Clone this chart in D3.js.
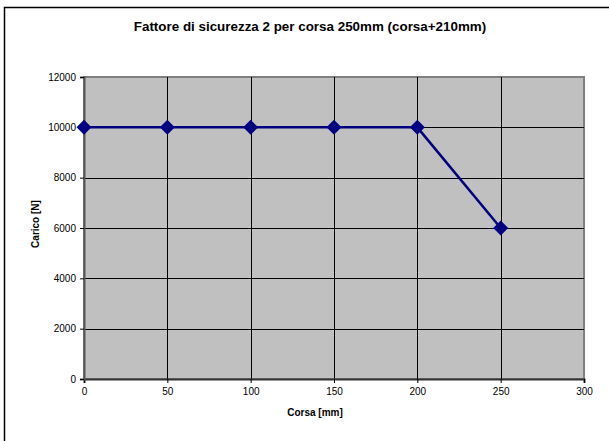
<!DOCTYPE html>
<html>
<head>
<meta charset="utf-8">
<script src="https://cdn.jsdelivr.net/npm/d3@7"></script>
<style>
  body { margin: 0; background: #fff; }
  text { font-family: Arial, "Liberation Sans", sans-serif; fill: #000; }
</style>
</head>
<body>
<div id="chart"></div>
<script>
const width = 609,
  height = 441,
  margin = { top: 77, bottom: 62, left: 84, right: 25 };

// data
const corsa = [0, 50, 100, 150, 200, 250];
const carico = [10000, 10000, 10000, 10000, 10000, 6000];
const xTicks = [0, 50, 100, 150, 200, 250, 300];
const yTicks = [0, 2000, 4000, 6000, 8000, 10000, 12000];

const svg = d3.select("#chart")
  .append("svg")
  .attr("width", width)
  .attr("height", height);

// outer chart frame
svg.append("rect")
  .attr("x", 4.5)
  .attr("y", 7.5)
  .attr("width", 620)
  .attr("height", 460)
  .attr("fill", "#fff")
  .attr("stroke", "#000")
  .attr("stroke-width", 1.5);

const xScale = d3.scaleLinear()
  .domain([0, 300])
  .range([margin.left, width - margin.right]);

const yScale = d3.scaleLinear()
  .domain([0, 12000])
  .range([height - margin.bottom, margin.top]);

// plot area
svg.append("rect")
  .attr("x", xScale(0))
  .attr("y", yScale(12000))
  .attr("width", xScale(300) - xScale(0))
  .attr("height", yScale(0) - yScale(12000))
  .attr("fill", "#c0c0c0")
  .attr("stroke", "#808080")
  .attr("stroke-width", 2);

// gridlines
svg.append("g")
  .selectAll("line")
  .data(yTicks.filter(d => d > 0 && d < 12000))
  .join("line")
  .attr("x1", xScale(0))
  .attr("x2", xScale(300))
  .attr("y1", d => Math.round(yScale(d)) + 0.5)
  .attr("y2", d => Math.round(yScale(d)) + 0.5)
  .attr("stroke", "#000");

svg.append("g")
  .selectAll("line")
  .data(xTicks.filter(d => d > 0 && d < 300))
  .join("line")
  .attr("x1", d => Math.round(xScale(d)) + 0.5)
  .attr("x2", d => Math.round(xScale(d)) + 0.5)
  .attr("y1", yScale(12000))
  .attr("y2", yScale(0))
  .attr("stroke", "#000");

// axes
const xAxis = d3.axisBottom(xScale).tickValues(xTicks).tickFormat(d3.format("d")).tickSize(4).tickPadding(5);
const yAxis = d3.axisLeft(yScale).tickValues(yTicks).tickFormat(d3.format("d")).tickSize(4).tickPadding(4);

svg.append("g")
  .attr("class", "axis x-axis")
  .attr("transform", `translate(0,${yScale(0)})`)
  .call(xAxis)
  .call(g => g.selectAll("text").attr("font-size", 10))
  .call(g => g.select(".domain").attr("stroke", "#333").attr("stroke-width", 2));

svg.append("g")
  .attr("class", "axis y-axis")
  .attr("transform", `translate(${xScale(0)},0)`)
  .call(yAxis)
  .call(g => g.selectAll("text").attr("font-size", 10))
  .call(g => g.select(".domain").attr("stroke", "#555").attr("stroke-width", 2));

svg.selectAll(".axis text").attr("font-family", "Arial, 'Liberation Sans', sans-serif");

// series
const points = corsa.map((c, i) => ({ x: c, y: carico[i] }));

svg.append("path")
  .datum(points)
  .attr("fill", "none")
  .attr("stroke", "#000080")
  .attr("stroke-width", 2.5)
  .attr("d", d3.line().x(d => xScale(d.x)).y(d => yScale(d.y)));

svg.append("g")
  .selectAll("path")
  .data(points)
  .join("path")
  .attr("transform", d => `translate(${xScale(d.x)},${yScale(d.y)})`)
  .attr("d", "M0,-7.5L7.5,0L0,7.5L-7.5,0Z")
  .attr("fill", "#000080");

// titles
svg.append("text")
  .attr("x", 310)
  .attr("y", 31)
  .attr("text-anchor", "middle")
  .attr("font-size", 13.4)
  .attr("font-weight", "bold")
  .text("Fattore di sicurezza 2 per corsa 250mm (corsa+210mm)");

svg.append("text")
  .attr("x", 315)
  .attr("y", 416)
  .attr("text-anchor", "middle")
  .attr("font-size", 10)
  .attr("font-weight", "bold")
  .text("Corsa [mm]");

svg.append("text")
  .attr("transform", "translate(39,224) rotate(-90)")
  .attr("text-anchor", "middle")
  .attr("font-size", 10)
  .attr("font-weight", "bold")
  .text("Carico [N]");
</script>
</body>
</html>
